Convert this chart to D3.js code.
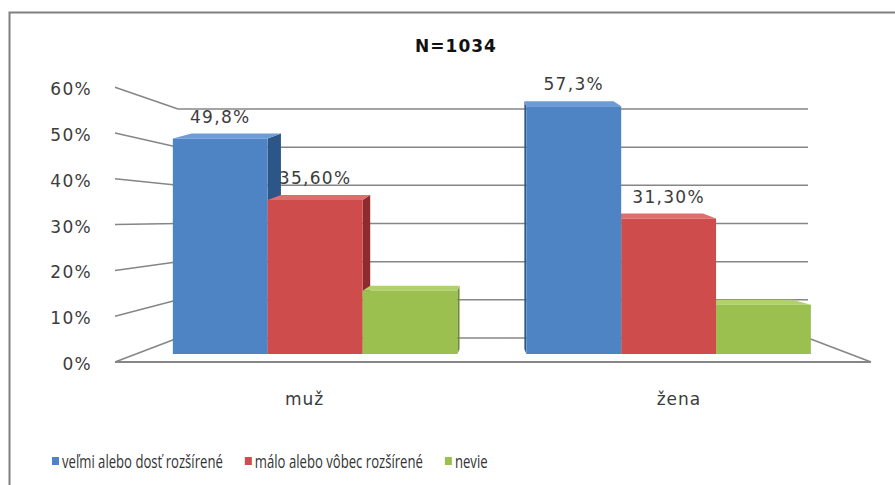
<!DOCTYPE html>
<html>
<head>
<meta charset="utf-8">
<script src="https://cdn.jsdelivr.net/npm/d3@7"></script>
<style>
  body { margin: 0; background: #fff; }
  svg { display: block; }
</style>
</head>
<body>
<script>
// data
var categories = ["muž", "žena"];
var seriesNames = ["veľmi alebo dosť rozšírené", "málo alebo vôbec rozšírené", "nevie"];
var seriesValues = [
  [49.8, 57.3],
  [35.6, 31.3],
  [14.6, 11.4]
];
var valueLabels = [
  ["49,8%", "57,3%"],
  ["35,60%", "31,30%"],
  ["", ""]
];
var yTicks = [0, 10, 20, 30, 40, 50, 60];
var tickLabels = ["0%", "10%", "20%", "30%", "40%", "50%", "60%"];
var title = "N=1034";

var width = 895;
var height = 485;

// colours for front / side / top faces
var fronts = ["#4f84c4", "#cf4c4c", "#9cc050"];
var sides = ["#2d5688", "#8e2b2e", "#6c8a32"];
var tops = ["#6d9bd6", "#dc6e6c", "#b2d06c"];

// simple perspective: vanishing point and depth scale
var vx = 493, vy = 218;
function s(d) { return 1 + 0.2 * d; }
function proj(x, y, d) {
  return [vx + (x - vx) * s(d), vy + (y - vy) * s(d)];
}

var wallLeft = 178, wallRight = 808;
var yScale = d3.scaleLinear().domain([0, 60]).range([338, 109]);

var x0 = d3.scaleBand()
  .domain(categories)
  .range([210.5, 773.5])
  .paddingInner(0.195)
  .paddingOuter(0);
var x1 = d3.scaleBand()
  .domain(seriesNames)
  .range([0, x0.bandwidth()]);

var svg = d3.select("body").append("svg")
  .attr("width", width)
  .attr("height", height);

svg.append("rect").attr("width", width).attr("height", height).attr("fill", "#fff");

// outer border
svg.append("path")
  .attr("d", "M9.5," + height + "V12.5H" + width)
  .attr("fill", "none")
  .attr("stroke", "#808080")
  .attr("stroke-width", 2);

var lineColor = "#868686";

// back wall gridlines
svg.append("g").selectAll("line")
  .data(yTicks)
  .enter().append("line")
  .attr("x1", wallLeft).attr("x2", wallRight)
  .attr("y1", d => yScale(d)).attr("y2", d => yScale(d))
  .attr("stroke", lineColor).attr("stroke-width", 1.5);

// left wall lines
svg.append("g").selectAll("line")
  .data(yTicks)
  .enter().append("line")
  .attr("x1", d => proj(wallLeft, yScale(d), 1)[0])
  .attr("y1", d => proj(wallLeft, yScale(d), 1)[1])
  .attr("x2", wallLeft)
  .attr("y2", d => yScale(d))
  .attr("stroke", lineColor).attr("stroke-width", 1.5);

// floor front edge and right edge
var fl = proj(wallLeft, yScale(0), 1), fr = proj(wallRight, yScale(0), 1);
svg.append("line")
  .attr("x1", fl[0]).attr("y1", fl[1]).attr("x2", fr[0]).attr("y2", fr[1])
  .attr("stroke", lineColor).attr("stroke-width", 1.8);
svg.append("line")
  .attr("x1", wallRight).attr("y1", yScale(0)).attr("x2", fr[0]).attr("y2", fr[1])
  .attr("stroke", lineColor).attr("stroke-width", 1.5);

// tick labels
svg.append("g").selectAll("text")
  .data(yTicks)
  .enter().append("text")
  .attr("x", 92)
  .attr("y", d => proj(wallLeft, yScale(d), 1)[1] + 2)
  .attr("dy", "0.35em")
  .attr("text-anchor", "end")
  .style("font-family", "'DejaVu Sans', Verdana, sans-serif")
  .style("font-size", "17px")
  .style("letter-spacing", "1.3px")
  .style("fill", "#3c3c3c")
  .text((d, i) => tickLabels[i]);

// bars
var bars = [];
seriesNames.forEach(function(name, si) {
  categories.forEach(function(cat, ci) {
    var xa = x0(cat) + x1(name);
    var xb = xa + x1.bandwidth();
    bars.push({si: si, ci: ci, xa: xa, xb: xb, v: seriesValues[si][ci], label: valueLabels[si][ci]});
  });
});
// paint bars far from the centre first
bars.sort((a, b) => Math.abs(b.xa + b.xb - 2 * vx) - Math.abs(a.xa + a.xb - 2 * vx));

var dF = 2 / 3, dB = 1 / 3, lift = 5;
function pt(p) { return p[0] + "," + p[1]; }

var barG = svg.append("g");
bars.forEach(function(b) {
  var yt = yScale(b.v), yb = yScale(0);
  var fa = proj(b.xa, yt, dF), fb = proj(b.xb, yt, dF);
  var ga = proj(b.xa, yb, dF), gb = proj(b.xb, yb, dF);
  var ba = proj(b.xa, yt, dB), bb = proj(b.xb, yt, dB);
  var ka = proj(b.xa, yb, dB), kb = proj(b.xb, yb, dB);
  ba[1] = fa[1] - lift; bb[1] = fb[1] - lift;
  ka[1] = ga[1] - lift; kb[1] = gb[1] - lift;
  var centre = (b.xa + b.xb) / 2;
  // side face
  var side = centre < vx ? [fb, bb, kb, gb] : [fa, ba, ka, ga];
  barG.append("polygon")
    .attr("points", side.map(pt).join(" "))
    .attr("fill", sides[b.si]);
  // top face
  barG.append("polygon")
    .attr("points", [fa, fb, bb, ba].map(pt).join(" "))
    .attr("fill", tops[b.si]);
  // front face
  barG.append("polygon")
    .attr("points", [fa, fb, gb, ga].map(pt).join(" "))
    .attr("fill", fronts[b.si]);
});

// value labels
svg.append("g").selectAll("text")
  .data(bars.filter(b => b.label))
  .enter().append("text")
  .attr("x", d => proj((d.xa + d.xb) / 2, yScale(d.v), dF)[0])
  .attr("y", d => proj((d.xa + d.xb) / 2, yScale(d.v), dF)[1] - 16)
  .attr("text-anchor", "middle")
  .style("font-family", "'DejaVu Sans', Verdana, sans-serif")
  .style("font-size", "17px")
  .style("letter-spacing", "1.3px")
  .style("fill", "#3c3c3c")
  .text(d => d.label);

// category labels on the floor front edge
svg.append("g").selectAll("text")
  .data(categories)
  .enter().append("text")
  .attr("x", d => proj(x0(d) + x0.bandwidth() / 2, yScale(0), 1)[0])
  .attr("y", 405)
  .attr("text-anchor", "middle")
  .style("font-family", "'DejaVu Sans', Verdana, sans-serif")
  .style("font-size", "17px")
  .style("letter-spacing", "1px")
  .style("fill", "#3c3c3c")
  .text(d => d);

// title
svg.append("text")
  .attr("x", 456)
  .attr("y", 52)
  .attr("text-anchor", "middle")
  .style("font-family", "'DejaVu Sans', Verdana, sans-serif")
  .style("font-size", "17px")
  .style("font-weight", "bold")
  .style("letter-spacing", "1px")
  .style("fill", "#111")
  .text(title);

// legend (narrow text: squeezed horizontally)
var legend = svg.append("g");
var lx = 52, squeeze = 0.71;
seriesNames.forEach(function(name, i) {
  legend.append("rect")
    .attr("x", lx).attr("y", 457)
    .attr("width", 7).attr("height", 8)
    .attr("fill", fronts[i]);
  var t = legend.append("text")
    .attr("transform", "translate(" + (lx + 10) + ",468) scale(" + squeeze + ",1)")
    .style("font-family", "'Open Sans', sans-serif")
    .style("font-size", "18.5px")
    .style("fill", "#333")
    .text(name);
  var w = t.node().getComputedTextLength() * squeeze;
  lx += 10 + w + 22;
});
</script>
</body>
</html>
